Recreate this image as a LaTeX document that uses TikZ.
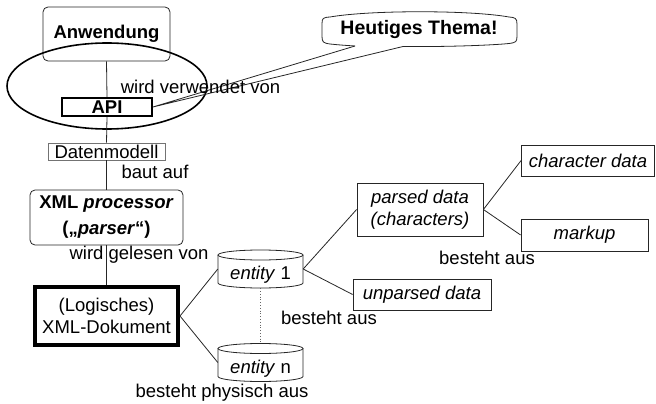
\documentclass[tikz,border=0pt]{standalone}
\usepackage{fontspec}
\setmainfont{Liberation Sans}
\begin{document}
\begin{tikzpicture}[x=1pt,y=-1pt,
  every node/.style={font=\fontsize{18.5}{22}\selectfont, inner sep=0pt, align=center},
  conn/.style={draw=black!85, line width=0.8pt},
  rbox/.style={draw=black!85, rounded corners=5pt, line width=0.8pt},
  pbox/.style={draw=black!85, line width=0.8pt},
  lbl/.style={anchor=center}
]
\useasboundingbox (0,0) rectangle (656,404);
% boxes
\node[rbox, minimum width=127pt, minimum height=54pt] (anw) at (106.5,34) {\textbf{Anwendung}};
\node[draw, line width=1.8pt, minimum width=90pt, minimum height=18pt] (api) at (107,107) {\textbf{API}};
\node[draw=black!55, line width=0.6pt, minimum width=117pt, minimum height=17pt] (dm) at (106.5,151.5) {Datenmodell};
\node[rbox, minimum width=153pt, minimum height=55pt] (xp) at (106.5,217.5) {\textbf{XML \textit{processor}}\\[4pt]\textbf{(„\textit{parser}“)}};
\node[draw, line width=4pt, minimum width=143pt, minimum height=58pt] (doc) at (106.5,316) {(Logisches)\\XML-Dokument};
\node[pbox, minimum width=126pt, minimum height=53pt] (pd) at (420,209.5) {\textit{parsed data}\\\textit{(characters)}};
\node[pbox, minimum width=133pt, minimum height=31pt] (cd) at (588,160.5) {\textit{character data}};
\node[pbox, minimum width=127pt, minimum height=32pt] (mu) at (584.5,235) {\textit{markup}};
\node[pbox, minimum width=138pt, minimum height=31pt] (ud) at (422,294.5) {\textit{unparsed data}};
% entities (cylinders)
\node[minimum width=85pt, minimum height=38pt, label={[yshift=-6pt]center:{\textit{entity} 1}}] (e1) at (260.5,269) {};
\node[minimum width=85pt, minimum height=38pt, label={[yshift=-6pt]center:{\textit{entity} n}}] (en) at (260.5,362.5) {};
\draw[pbox] (218,255) -- (218,283) arc[start angle=180,end angle=360,x radius=42.5pt,y radius=5pt] -- (303,255);
\draw[pbox] (260.5,255) ellipse[x radius=42.5pt, y radius=5pt];
\draw[pbox] (218,348.5) -- (218,376.5) arc[start angle=180,end angle=360,x radius=42.5pt,y radius=5pt] -- (303,348.5);
\draw[pbox] (260.5,348.5) ellipse[x radius=42.5pt, y radius=5pt];
% ellipse around API
\draw[line width=1.6pt] (107,86) ellipse[x radius=100pt, y radius=43pt];
% callout
\node (thema) at (419,30) {\fontsize{19.5}{22}\selectfont\textbf{Heutiges Thema!}};
\draw[pbox] (403,46.5) .. controls (450,47) and (495,45) .. (509,43.5)
  .. controls (516,42.5) and (517,42) .. (517,36)
  -- (517,24)
  .. controls (517,18) and (515,17.5) .. (509,17)
  .. controls (470,10) and (370,10) .. (330,17)
  .. controls (323,17.5) and (322,18) .. (322,24)
  -- (322,36)
  .. controls (322,42) and (323,43) .. (330,44)
  .. controls (340,45) .. (355,46);
\draw[pbox, line join=miter] (355,46) -- (api.east) -- (403,46.5);
% connectors
\draw[conn] (anw.south) -- (api.north);
\draw[conn] (api.south) -- (dm.north);
\draw[conn] (dm.south) -- (xp.north);
\draw[conn] (xp.south) -- (doc.north);
\draw[conn] (doc.east) -- (e1.west);
\draw[conn] (doc.east) -- (en.west);
\draw[draw=black!60, line width=0.8pt, dotted] (e1.south) -- (en.north);
\draw[conn] (e1.east) -- (pd.west);
\draw[conn] (e1.east) -- (ud.west);
\draw[conn] (pd.east) -- (cd.west);
\draw[conn] (pd.east) -- (mu.west);
% labels
\node[lbl] (l1) at (200.5,87) {wird verwendet von};
\node[lbl] (l2) at (155,172) {baut auf};
\node[lbl] (l3) at (139,255) {wird gelesen von};
\node[lbl] (l4) at (487,258) {besteht aus};
\node[lbl] (l5) at (329,318) {besteht aus};
\node[lbl] (l6) at (222,393) {besteht physisch aus};
\end{tikzpicture}
\end{document}
